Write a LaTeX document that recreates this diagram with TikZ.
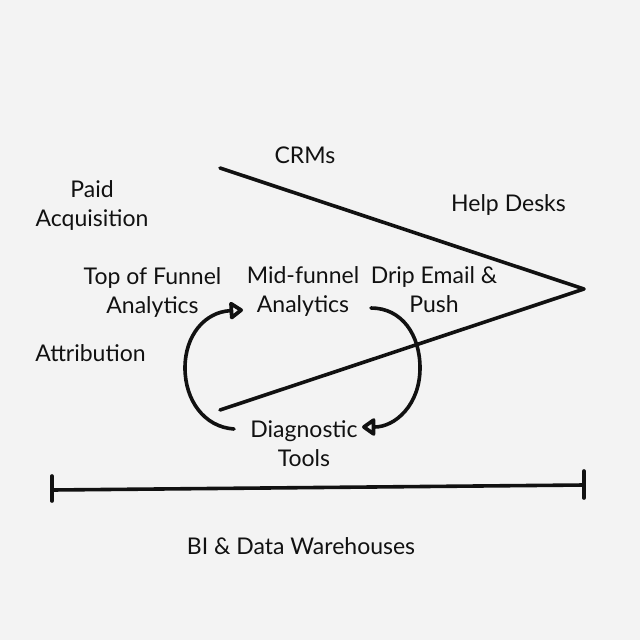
\documentclass[tikz,border=0pt]{standalone}
\usepackage{fontspec}
\setmainfont{Lato}
\usetikzlibrary{arrows.meta}
\definecolor{bg}{HTML}{F3F3F3}
\definecolor{ink}{HTML}{111111}
\tikzset{lbl/.style={font=\fontsize{23}{29}\selectfont,align=center,text=ink,inner sep=0pt},
 ln/.style={line width=3.6pt,ink,line cap=round,line join=round},
 arr/.style={ln,-{Triangle[open,length=15pt,width=20pt,line width=4pt,round]}}}
\begin{document}
\begin{tikzpicture}[x=1pt,y=-1pt]
\useasboundingbox (0,0) rectangle (640,640);
\fill[bg] (0,0) rectangle (640,640);
\coordinate (t) at (220,168);\coordinate (p) at (584,289);\coordinate (b) at (220,410);
\draw[ln] (t)--(p)--(b);
\coordinate (a1) at (234,429);\coordinate (a2) at (243,310);
\draw[arr] (a1) .. controls (204,427) and (185,400) .. (185,368) .. controls (185,335) and (205,312) .. (a2);
\coordinate (c1) at (371,308);\coordinate (c2) at (362,427);
\draw[arr] (c1) .. controls (402,308) and (420,335) .. (420,368) .. controls (420,405) and (395,427) .. (c2);
\coordinate (l) at (52,490);\coordinate (r) at (584,485);
\draw[ln] (l)--(r);
\coordinate (l1) at (52,476);\coordinate (l2) at (52,501);\coordinate (r1) at (584,471);\coordinate (r2) at (584,498);
\draw[ln] (l1)--(l2);\draw[ln] (r1)--(r2);
\node[lbl] (n1) at (305,155) {CRMs};
\node[lbl] (n2) at (92,205) {Paid\\Acquisition};
\node[lbl] (n3) at (508.5,205) {Help Desks};
\node[lbl] (n4) at (152.5,292) {Top of Funnel\\Analytics};
\node[lbl] (n5) at (303,291) {Mid-funnel\\Analytics};
\node[lbl] (n6) at (434,290) {Drip Email \&\\Push};
\node[lbl] (n7) at (90.5,353) {Attribution};
\node[lbl] (n8) at (304,444) {Diagnostic\\Tools};
\node[lbl] (n9) at (301,546) {BI \& Data Warehouses};
\end{tikzpicture}
\end{document}
